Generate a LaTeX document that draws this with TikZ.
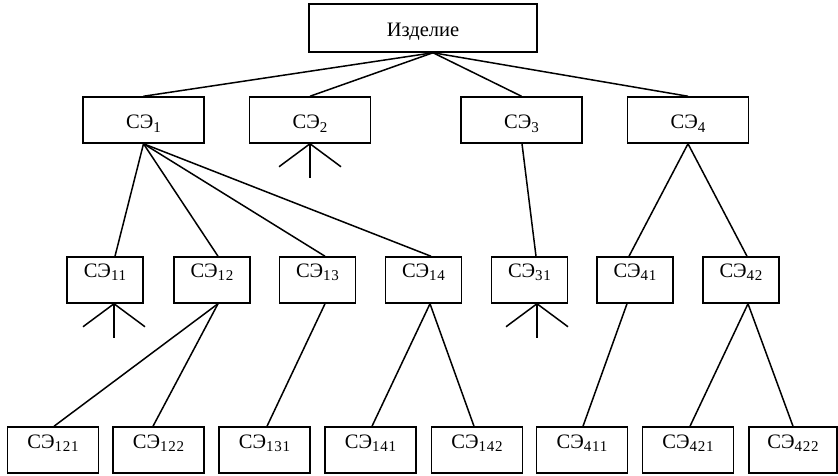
\documentclass[tikz,border=0pt]{standalone}
\usepackage{fontspec}
\setmainfont{Liberation Serif}
\newfontfamily\idxfont[LetterSpace=5]{Liberation Serif}
\newcommand{\idx}[1]{\raisebox{-3pt}{\fontsize{15}{15}\idxfont #1}}
\begin{document}
\begin{tikzpicture}[x=1pt,y=-1pt,line width=1.5pt,
  box/.style={draw,rectangle,inner xsep=0pt,inner ysep=3pt,
    font=\fontsize{20.5}{20.5}\selectfont},
  root/.style={box,minimum width=228,text height=30,text depth=12},
  lvla/.style={box,minimum width=121,text height=29,text depth=11},
  lvlb/.style={box,minimum width=76,text height=17.5,text depth=22.5},
  lvlc/.style={box,minimum width=91,text height=18,text depth=22},
  link/.style={line width=1.5pt}]
\useasboundingbox (0,0) rectangle (838,476);

% product
\node[root] (p) at (423,28) {Изделие};

% first level
\node[lvla] (a1) at (143.5,120) {СЭ\idx{1}};
\node[lvla] (a2) at (310,120) {СЭ\idx{2}};
\node[lvla] (a3) at (521.5,120) {СЭ\idx{3}};
\node[lvla] (a4) at (688,120) {СЭ\idx{4}};

% second level
\node[lvlb] (b11) at (105,280) {СЭ\idx{11}};
\node[lvlb] (b12) at (212,280) {СЭ\idx{12}};
\node[lvlb] (b13) at (317.5,280) {СЭ\idx{13}};
\node[lvlb] (b14) at (423.5,280) {СЭ\idx{14}};
\node[lvlb] (b31) at (529.5,280) {СЭ\idx{31}};
\node[lvlb] (b41) at (635,280) {СЭ\idx{41}};
\node[lvlb] (b42) at (741,280) {СЭ\idx{42}};

% third level
\node[lvlc] (c121) at (53,450) {СЭ\idx{121}};
\node[lvlc] (c122) at (158.5,450) {СЭ\idx{122}};
\node[lvlc] (c131) at (264.5,450) {СЭ\idx{131}};
\node[lvlc] (c141) at (370.5,450) {СЭ\idx{141}};
\node[lvlc] (c142) at (477,450) {СЭ\idx{142}};
\node[lvlc] (c411) at (582,450) {СЭ\idx{411}};
\node[lvlc] (c421) at (688,450) {СЭ\idx{421}};
\node[lvlc,minimum width=88] (c422) at (793,450) {СЭ\idx{422}};

% product -> first level
\foreach \t in {a1,a2,a3,a4}
  \draw[link] ([xshift=10]p.south) -- (\t.north);

% first level -> second level
\draw[link] (a1.south) -- ([xshift=10]b11.north);
\draw[link] (a1.south) -- ([xshift=6]b12.north);
\draw[link] (a1.south) -- ([xshift=7.5]b13.north);
\draw[link] (a1.south) -- ([xshift=7.5]b14.north);
\draw[link] ([xshift=0.5]a3.south) -- ([xshift=6.5]b31.north);
\draw[link] (a4.south) -- ([xshift=-6]b41.north);
\draw[link] (a4.south) -- ([xshift=6]b42.north);

% second level -> third level
\draw[link] ([xshift=6]b12.south) -- ([xshift=1]c121.north);
\draw[link] ([xshift=6]b12.south) -- ([xshift=-5.5]c122.north);
\draw[link] ([xshift=7.5]b13.south) -- ([xshift=2.5]c131.north);
\draw[link] ([xshift=6.5]b14.south) -- ([xshift=1.5]c141.north);
\draw[link] ([xshift=6.5]b14.south) -- ([xshift=-3]c142.north);
\draw[link] ([xshift=-8]b41.south) -- ([xshift=1]c411.north);
\draw[link] ([xshift=7]b42.south) -- ([xshift=2]c421.north);
\draw[link] ([xshift=7]b42.south) -- (c422.north);

% open branches (crow's feet)
\foreach \n/\dx in {a2/0,b11/9,b31/7.5}{
  \coordinate (f) at ([xshift=\dx]\n.south);
  \draw[link] (f) -- ++(-31,23);
  \draw[link] (f) -- ++(0,34);
  \draw[link] (f) -- ++(31,23);
}
\end{tikzpicture}
\end{document}
